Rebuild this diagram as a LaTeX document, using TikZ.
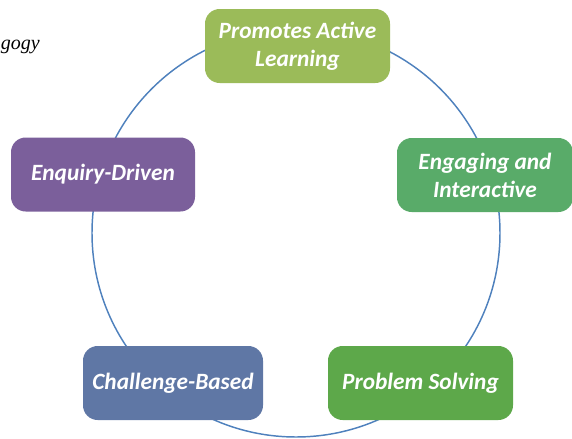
\documentclass[tikz,border=0pt]{standalone}
\usepackage{fontspec}
\setmainfont{Carlito}
\newfontfamily\serifit{Liberation Serif}
\definecolor{ringblue}{HTML}{4F81BD}
\definecolor{cPromo}{HTML}{9BBB59}
\definecolor{cEngage}{HTML}{59AB69}
\definecolor{cProblem}{HTML}{5DA84A}
\definecolor{cChallenge}{HTML}{5F77A5}
\definecolor{cEnquiry}{HTML}{7B5F9B}
\tikzset{
  boxnode/.style={rounded corners=11pt, minimum height=55.5pt, inner sep=0pt,
    text=white, align=center,
    font=\fontsize{17.5pt}{21pt}\selectfont\bfseries\itshape},
  ring/.style={draw=ringblue, line width=1.1pt}
}
\begin{document}
\begin{tikzpicture}[x=0.75pt,y=-0.75pt]
\useasboundingbox (0,0) rectangle (572,439);
\node[anchor=base west, inner sep=0pt, font=\serifit\itshape\fontsize{15pt}{18pt}\selectfont] (title) at (0.5,49) {gogy};
\draw[ring] (296,233) circle [radius=153pt];
\node[boxnode, fill=cPromo, minimum width=138.75pt] (promo) at (297.5,46) {Promotes Active\\Learning};
\node[boxnode, fill=cEngage, minimum width=132pt] (engage) at (485,175) {Engaging and\\Interactive};
\node[boxnode, fill=cProblem, minimum width=138.75pt] (problem) at (420.5,383) {Problem Solving};
\node[boxnode, fill=cChallenge, minimum width=135pt] (challenge) at (173,383) {Challenge-Based};
\node[boxnode, fill=cEnquiry, minimum width=138pt] (enquiry) at (103,174.5) {Enquiry-Driven};
\end{tikzpicture}
\end{document}
